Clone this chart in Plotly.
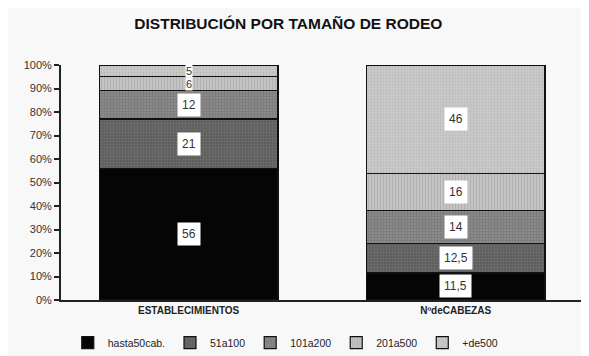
import plotly.graph_objects as go

categorias = ["ESTABLECIMIENTOS", "NºdeCABEZAS"]
series = ["hasta50cab.", "51a100", "101a200", "201a500", "+de500"]
valores = {
    "hasta50cab.": [56, 11.5],
    "51a100": [21, 12.5],
    "101a200": [12, 14],
    "201a500": [6, 16],
    "+de500": [5, 46],
}
etiquetas = {
    "hasta50cab.": ["56", "11,5"],
    "51a100": ["21", "12,5"],
    "101a200": ["12", "14"],
    "201a500": ["6", "16"],
    "+de500": ["5", "46"],
}
y_ticks = [0, 10, 20, 30, 40, 50, 60, 70, 80, 90, 100]
y_ticktext = [f"{v}%" for v in y_ticks]

estilos = {
    "hasta50cab.": dict(color="#050505", pattern=dict(shape="")),
    "51a100": dict(color="#5e5e5e", pattern=dict(shape=".", fgcolor="#858585", size=3, solidity=0.3)),
    "101a200": dict(color="#8a8a8a", pattern=dict(shape="+", fgcolor="#5e5e5e", size=3, solidity=0.3)),
    "201a500": dict(color="#c4c4c4", pattern=dict(shape="|", fgcolor="#9a9a9a", size=3, solidity=0.3)),
    "+de500": dict(color="#c9c9c9", pattern=dict(shape=".", fgcolor="#ababab", size=3, solidity=0.3)),
}

fig = go.Figure()
for s in series:
    st = estilos[s]
    fig.add_trace(go.Bar(
        name=s, x=categorias, y=valores[s], width=0.67,
        marker=dict(color=st["color"], pattern=st["pattern"],
                    line=dict(color="#111111", width=1.2)),
    ))

# white value boxes in the middle of each segment
base = [0, 0]
for s in series:
    for i, c in enumerate(categorias):
        v = valores[s][i]
        chico = v < 8
        fig.add_annotation(x=c, y=base[i] + v / 2, text=etiquetas[s][i],
                           showarrow=False, bgcolor="white",
                           borderpad=0 if chico else 4,
                           font=dict(size=11 if chico else 12, color="#333333"))
        base[i] += v

fig.update_layout(
    barmode="stack",
    width=589, height=356,
    paper_bgcolor="#f8f8f8", plot_bgcolor="#f8f8f8",
    margin=dict(l=53, r=2, t=57, b=64, autoexpand=False),
    font=dict(family="Liberation Sans, Arial, sans-serif", color="#222222"),
    title=dict(text="<b>DISTRIBUCIÓN POR TAMAÑO DE RODEO</b>", x=0.476, xanchor="center",
               y=0.957, yanchor="middle", font=dict(size=15.5, color="#111111")),
    legend=dict(orientation="h", x=0.42, xanchor="center", y=-0.12, yanchor="top",
                font=dict(size=10.5, color="#222222"), itemwidth=30,
                bgcolor="rgba(0,0,0,0)", traceorder="normal"),
    showlegend=True,
)
fig.update_yaxes(range=[0, 100], tickvals=y_ticks, ticktext=y_ticktext,
                 showgrid=False, zeroline=False, showline=True, linecolor="#222222",
                 linewidth=2, ticks="outside", ticklen=5, tickwidth=2, tickcolor="#222222",
                 tickfont=dict(size=11, color="#333333"))
fig.update_xaxes(range=[-0.478, 1.522], showgrid=False, showline=True, linecolor="#222222",
                 linewidth=2, ticks="", tickfont=dict(size=10, color="#222222"),
                 tickvals=categorias,
                 ticktext=["<b>ESTABLECIMIENTOS</b>", "<b>NºdeCABEZAS</b>"])

fig.write_html("out.html")
